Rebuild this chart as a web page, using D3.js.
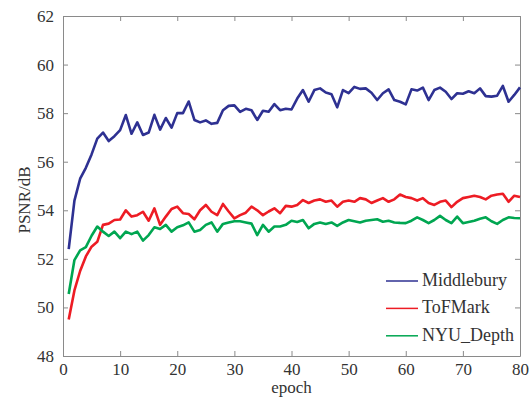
<!DOCTYPE html>
<html>
<head>
<meta charset="utf-8">
<script src="https://cdn.jsdelivr.net/npm/d3@7"></script>
<style>
  body { margin: 0; background: #fff; }
  svg text { font-family: 'Liberation Serif', 'DejaVu Serif', serif; }
</style>
</head>
<body>
<svg width="532" height="397"></svg>
<script>
// PSNR per training epoch, three datasets
const epochs = d3.range(1, 81);

const middlebury = [
  52.4, 54.4, 55.3, 55.75, 56.3, 56.95, 57.2, 56.85, 57.05, 57.3,
  57.92, 57.15, 57.62, 57.1, 57.2, 57.93, 57.32, 57.8, 57.4, 58.0,
  58.0, 58.48, 57.72, 57.62, 57.7, 57.56, 57.6, 58.12, 58.3, 58.32,
  58.05, 58.18, 58.12, 57.72, 58.1, 58.06, 58.37, 58.12, 58.18, 58.15,
  58.6, 58.95, 58.47, 58.95, 59.02, 58.85, 58.78, 58.24, 58.95, 58.82,
  59.08, 59.0, 59.02, 58.84, 58.54, 58.82, 58.98, 58.54, 58.47, 58.36,
  58.98, 58.93, 59.05, 58.54, 58.95, 59.05, 58.88, 58.58, 58.82, 58.8,
  58.9, 58.82, 59.02, 58.7, 58.68, 58.72, 59.12, 58.47, 58.75, 59.06
];

const tofmark = [
  49.5, 50.7, 51.5, 52.1, 52.5, 52.7, 53.4, 53.45, 53.6, 53.62,
  54.0, 53.74, 53.8, 53.94, 53.57, 54.08, 53.4, 53.74, 54.05, 54.15,
  53.88, 53.85, 53.63, 54.0, 54.22, 53.94, 53.8, 54.26, 53.95, 53.67,
  53.8, 53.9, 54.15, 54.0, 53.8, 53.95, 54.08, 53.88, 54.18, 54.15,
  54.22, 54.42, 54.3, 54.4, 54.45, 54.35, 54.4, 54.15, 54.35, 54.4,
  54.35, 54.5, 54.45, 54.3, 54.4, 54.5, 54.35, 54.45, 54.65, 54.55,
  54.5, 54.4, 54.5, 54.3, 54.22, 54.35, 54.4, 54.13, 54.35, 54.5,
  54.55, 54.6, 54.55, 54.45, 54.6, 54.65, 54.68, 54.35, 54.6, 54.55
];

const nyuDepth = [
  50.55, 51.95, 52.35, 52.48, 52.95, 53.33, 53.12, 52.94, 53.12, 52.85,
  53.12, 53.02, 53.12, 52.75, 52.98, 53.3, 53.23, 53.4, 53.12, 53.3,
  53.38, 53.5, 53.12, 53.19, 53.4, 53.5, 53.12, 53.44, 53.5, 53.55,
  53.55, 53.5, 53.45, 52.98, 53.4, 53.12, 53.33, 53.33, 53.4, 53.57,
  53.52, 53.6, 53.26, 53.44, 53.5, 53.44, 53.5, 53.36, 53.5, 53.6,
  53.55, 53.5, 53.57, 53.6, 53.63, 53.53, 53.57, 53.5, 53.48, 53.47,
  53.57, 53.71, 53.6, 53.47, 53.6, 53.77, 53.6, 53.47, 53.74, 53.47,
  53.52, 53.57, 53.65, 53.71, 53.55, 53.44, 53.6, 53.71, 53.68, 53.67
];

const seriesNames = ['Middlebury', 'ToFMark', 'NYU_Depth'];
const seriesColors = ['#2e3192', '#ed1c24', '#00a651'];
const xTicks = [0, 10, 20, 30, 40, 50, 60, 70, 80];
const yTicks = [48, 50, 52, 54, 56, 58, 60, 62];

const svg = d3.select('svg'),
      plotLeft = 63, plotRight = 520, plotTop = 16, plotBottom = 356;

const x = d3.scaleLinear().domain([0, 80]).range([plotLeft, plotRight]);
const y = d3.scaleLinear().domain([48, 62]).range([plotBottom, plotTop]);

const axisColor = '#8a8a8a';

function styleAxis(g) {
  g.attr('font-family', 'Liberation Serif').attr('font-size', 17);
  g.select('.domain').attr('stroke', axisColor);
  g.selectAll('.tick line').attr('stroke', axisColor);
  g.selectAll('.tick text').attr('fill', '#333');
}

// bottom
svg.append('g')
  .attr('transform', `translate(0,${plotBottom})`)
  .call(d3.axisBottom(x).tickValues(xTicks).tickSizeInner(-5).tickSizeOuter(0).tickPadding(7))
  .call(styleAxis);
// top
svg.append('g')
  .attr('transform', `translate(0,${plotTop})`)
  .call(d3.axisTop(x).tickValues(xTicks).tickSizeInner(-5).tickSizeOuter(0).tickFormat(''))
  .call(styleAxis);
// left
svg.append('g')
  .attr('transform', `translate(${plotLeft},0)`)
  .call(d3.axisLeft(y).tickValues(yTicks).tickSizeInner(-5).tickSizeOuter(0).tickPadding(9))
  .call(styleAxis);
// right
svg.append('g')
  .attr('transform', `translate(${plotRight},0)`)
  .call(d3.axisRight(y).tickValues(yTicks).tickSizeInner(-5).tickSizeOuter(0).tickFormat(''))
  .call(styleAxis);

// labels
svg.append('text')
  .attr('x', (plotLeft + plotRight) / 2)
  .attr('y', 393)
  .attr('text-anchor', 'middle')
  .attr('fill', '#333')
  .attr('font-size', 17)
  .text('epoch');

svg.append('text')
  .attr('transform', `translate(30,200) rotate(-90)`)
  .attr('text-anchor', 'middle')
  .attr('fill', '#333')
  .attr('font-size', 17)
  .text('PSNR/dB');

// lines
const line = d3.line()
  .x((d, i) => x(epochs[i]))
  .y(d => y(d));

const allSeries = [middlebury, tofmark, nyuDepth];

svg.append('g')
  .attr('fill', 'none')
  .attr('stroke-width', 2.6)
  .attr('stroke-linejoin', 'round')
  .selectAll('path')
  .data(allSeries)
  .enter()
  .append('path')
  .attr('stroke', (d, i) => seriesColors[i])
  .attr('d', d => line(d));

// legend
const legend = svg.append('g')
  .selectAll('g')
  .data(seriesNames)
  .enter()
  .append('g')
  .attr('transform', (d, i) => `translate(386,${281 + i * 27.4})`);

legend.append('line')
  .attr('x1', 0).attr('x2', 32)
  .attr('stroke', (d, i) => seriesColors[i])
  .attr('stroke-width', 1.5);

legend.append('text')
  .attr('x', 36)
  .attr('y', 5)
  .attr('fill', '#333')
  .attr('font-size', 18)
  .text(d => d);
</script>
</body>
</html>
